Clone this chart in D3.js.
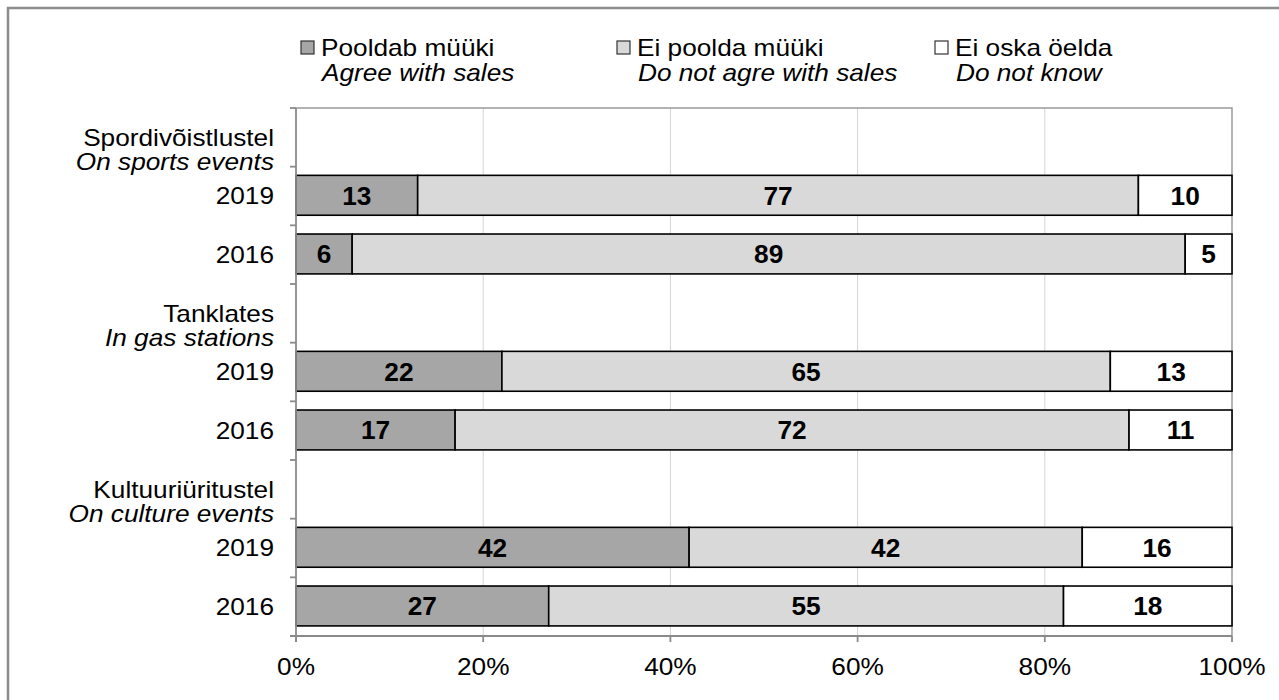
<!DOCTYPE html>
<html>
<head>
<meta charset="utf-8">
<script src="https://cdn.jsdelivr.net/npm/d3@7"></script>
<style>
  html, body { margin: 0; padding: 0; background: #fff; }
  svg { display: block; font-family: "Liberation Sans", Arial, sans-serif; }
</style>
</head>
<body>
<svg id="chart" width="1279" height="700"></svg>
<script>
// ---- data ----
const categories = ["Spordivõistlustel", "Tanklates", "Kultuuriüritustel"];
const categoriesEn = ["On sports events", "In gas stations", "On culture events"];
const years = ["2019", "2016"];
const agree    = [13, 6, 22, 17, 42, 27];
const disagree = [77, 89, 65, 72, 42, 55];
const dontKnow = [10, 5, 13, 11, 16, 18];
const seriesNames   = ["Pooldab müüki", "Ei poolda müüki", "Ei oska öelda"];
const seriesNamesEn = ["Agree with sales", "Do not agre with sales", "Do not know"];
const seriesColors  = ["#a6a6a6", "#d9d9d9", "#ffffff"];
const xTicks = [0, 20, 40, 60, 80, 100];

(function () {
// ---- layout ----
const svg = d3.select("#chart");
const pLeft = 296, pRight = 1232, pTop = 108, pBottom = 636;
const SX = 1.14; // horizontal glyph stretch of the reference

// rows: header + each year per category
const rows = [];
categories.forEach((c, i) => {
  rows.push({ key: "h" + i, type: "header", ci: i });
  years.forEach((yr, j) => rows.push({ key: i + "-" + yr, type: "bar", ci: i, year: yr, di: i * 2 + j }));
});

const x = d3.scaleLinear().domain([0, 100]).range([pLeft, pRight]);
const y = d3.scaleBand().domain(rows.map(r => r.key)).range([pTop, pBottom]).padding(0);
const bw = y.bandwidth();

function stxt(sel, px, py, s, o = {}) {
  const t = sel.append("text")
    .attr("transform", `translate(${px},${py}) scale(${o.sx ?? SX},1)`)
    .attr("text-anchor", o.anchor || "start")
    .style("font-size", (o.size || 23) + "px")
    .style("fill", "#000")
    .text(s);
  if (o.italic) t.style("font-style", "italic");
  if (o.bold) t.style("font-weight", "bold");
  return t;
}

// outer border (left + top)
svg.append("path").attr("d", "M8,700 V8 H1279")
  .attr("fill", "none").attr("stroke", "#8c8c8c").attr("stroke-width", 2.5);

// gridlines
svg.append("g").selectAll("line").data(xTicks.filter(t => t > 0 && t < 100)).join("line")
  .attr("x1", d => x(d)).attr("x2", d => x(d)).attr("y1", pTop).attr("y2", pBottom)
  .attr("stroke", "#d4d4d4").attr("stroke-width", 1);

// plot frame top/right
svg.append("path").attr("d", `M${pLeft},${pTop} H${pRight} V${pBottom}`)
  .attr("fill", "none").attr("stroke", "#9a9a9a").attr("stroke-width", 1.5);

// stacked bars
const barRows = rows.filter(r => r.type === "bar");
const stackData = barRows.map(r => ({ key: r.key, a: agree[r.di], b: disagree[r.di], c: dontKnow[r.di] }));
const stack = d3.stack().keys(["a", "b", "c"])(stackData);
const bh = bw * 0.68;
const gBars = svg.append("g");
stack.forEach((ser, si) => {
  gBars.selectAll(null).data(ser).join("rect")
    .attr("x", d => x(d[0])).attr("width", d => x(d[1]) - x(d[0]))
    .attr("y", d => y(d.data.key) + (bw - bh) / 2 - 0.7).attr("height", bh)
    .attr("fill", seriesColors[si]).attr("stroke", "#000").attr("stroke-width", 1.6);
});
// value labels
stack.forEach((ser) => {
  ser.forEach(d => {
    const v = d[1] - d[0];
    stxt(svg, (x(d[0]) + x(d[1])) / 2, y(d.data.key) + bw / 2 + 8.8, String(v),
      { anchor: "middle", bold: true, size: 25, sx: 1.05 });
  });
});

// y axis
const yAxisG = svg.append("g");
yAxisG.append("line").attr("x1", pLeft).attr("x2", pLeft).attr("y1", pTop).attr("y2", pBottom + 6)
  .attr("stroke", "#8a8a8a").attr("stroke-width", 1.8);
const bounds = rows.map(r => y(r.key)).concat([pBottom]);
yAxisG.selectAll("line.tk").data(bounds).join("line").attr("class", "tk")
  .attr("x1", pLeft - 6).attr("x2", pLeft).attr("y1", d => d).attr("y2", d => d)
  .attr("stroke", "#8a8a8a").attr("stroke-width", 1.8);

// x axis
const xAxisG = svg.append("g");
xAxisG.append("line").attr("x1", pLeft - 6).attr("x2", pRight).attr("y1", pBottom).attr("y2", pBottom)
  .attr("stroke", "#8a8a8a").attr("stroke-width", 1.8);
xAxisG.selectAll("line.tk").data(xTicks).join("line").attr("class", "tk")
  .attr("x1", d => x(d)).attr("x2", d => x(d)).attr("y1", pBottom).attr("y2", pBottom + 6)
  .attr("stroke", "#8a8a8a").attr("stroke-width", 1.8);
xTicks.forEach(t => stxt(svg, x(t), 675, t + "%", { anchor: "middle" }));

// y labels
rows.forEach(r => {
  const y0 = y(r.key);
  if (r.type === "header") {
    stxt(svg, 274, y0 + 38, categories[r.ci], { anchor: "end" });
    stxt(svg, 274, y0 + 61.5, categoriesEn[r.ci], { anchor: "end", italic: true });
  } else {
    stxt(svg, 274, y0 + bw / 2 + 8.3, r.year, { anchor: "end" });
  }
});

// legend
const legendX = [301, 617, 935];
seriesNames.forEach((n, i) => {
  const lx = legendX[i];
  svg.append("rect").attr("x", lx).attr("y", 41).attr("width", 13).attr("height", 13)
    .attr("fill", seriesColors[i]).attr("stroke", "#333").attr("stroke-width", 1.2);
  stxt(svg, lx + 20, 55.5, n);
  stxt(svg, lx + 21, 80.5, seriesNamesEn[i], { italic: true });
});
})();
</script>
</body>
</html>
